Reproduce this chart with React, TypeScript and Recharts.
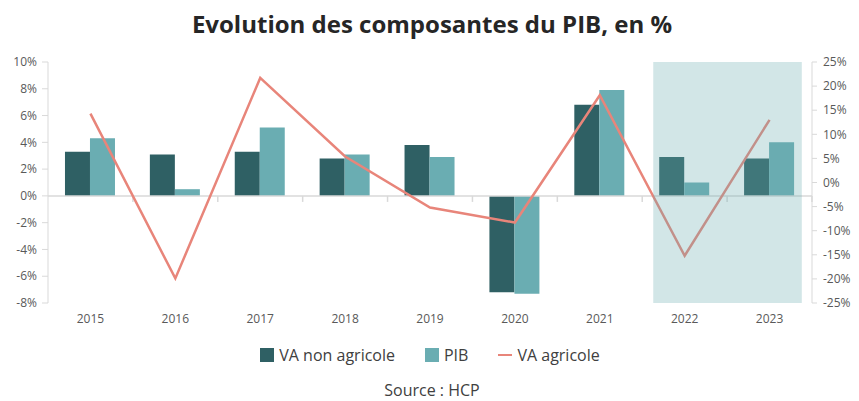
import {
  ComposedChart,
  Bar,
  Line,
  XAxis,
  YAxis,
  Legend,
  ReferenceArea,
  ReferenceLine,
} from "recharts";

const years: string[] = ["2015", "2016", "2017", "2018", "2019", "2020", "2021", "2022", "2023"];
const vaNonAgricole: number[] = [3.3, 3.1, 3.3, 2.8, 3.8, -7.2, 6.8, 2.9, 2.8];
const pib: number[] = [4.3, 0.5, 5.1, 3.1, 2.9, -7.3, 7.9, 1.0, 4.0];
const vaAgricole: number[] = [14.3, -19.9, 21.7, 5.4, -5.2, -8.3, 18.1, -15.2, 13.0];

const leftTicks: number[] = [-8, -6, -4, -2, 0, 2, 4, 6, 8, 10];
const rightTicks: number[] = [-25, -20, -15, -10, -5, 0, 5, 10, 15, 20, 25];
const legendOrder: string[] = ["VA non agricole", "PIB", "VA agricole"];

// shaded forecast zone, in category units on the hidden numeric axis
const shadeFrom = 7.13;
const shadeTo = 8.88;
const boundaries: number[] = [1, 2, 3, 4, 5, 6, 7, 8, 9];

const DARK = "#2f6064";
const LIGHT = "#6aadb2";
const SALMON = "#e8857a";
const GRID = "#d9d9d9";
const FONT = "'Open Sans', sans-serif";

const data = years.map((year, i) => ({
  year,
  idx: i + 0.5,
  vaNonAgricole: vaNonAgricole[i],
  pib: pib[i],
  vaAgricole: vaAgricole[i],
}));

const pct = (v: number): string => `${v}%`;

function LegendContent({ payload }: any): JSX.Element {
  const items = [...(payload || [])].sort(
    (a: any, b: any) => legendOrder.indexOf(a.value) - legendOrder.indexOf(b.value)
  );
  return (
    <div
      style={{
        display: "flex",
        justifyContent: "center",
        alignItems: "center",
        gap: 30,
        height: 30,
        fontFamily: FONT,
        fontSize: 16,
        color: "#404040",
      }}
    >
      {items.map((p: any) => (
        <div key={p.value} style={{ display: "flex", alignItems: "center", gap: 5 }}>
          {p.type === "line" ? (
            <span style={{ display: "inline-block", width: 14, height: 2, background: p.color }} />
          ) : (
            <span style={{ display: "inline-block", width: 14, height: 14, background: p.color }} />
          )}
          <span>{p.value}</span>
        </div>
      ))}
    </div>
  );
}

export default function App(): JSX.Element {
  return (
    <div style={{ position: "relative", width: 848, fontFamily: FONT }}>
      <div
        style={{
          position: "absolute",
          top: 1,
          left: 0,
          width: 848,
          textAlign: "center",
          fontSize: 24,
          fontWeight: 700,
          color: "#262626",
          lineHeight: "30px",
        }}
      >
        Evolution des composantes du PIB, en %
      </div>
      <ComposedChart
        width={848}
        height={362}
        data={data}
        margin={{ top: 54, right: 4, left: 0, bottom: 0 }}
        barCategoryGap="20%"
        barGap={0}
      >
        <XAxis
          dataKey="year"
          xAxisId="cat"
          axisLine={false}
          tickLine={false}
          tickSize={0}
          tickMargin={11}
          height={37}
          interval={0}
          tick={{ fill: "#595959", fontSize: 12, fontFamily: FONT }}
        />
        <XAxis xAxisId="num" type="number" dataKey="idx" domain={[0, 9]} hide allowDataOverflow />
        <YAxis
          yAxisId="left"
          domain={[-8, 10]}
          ticks={leftTicks}
          tickFormatter={pct}
          width={40}
          axisLine={{ stroke: GRID }}
          tickLine={{ stroke: GRID }}
          tickSize={6}
          tickMargin={5}
          interval={0}
          tick={{ fill: "#595959", fontSize: 12, fontFamily: FONT }}
        />
        <YAxis
          yAxisId="right"
          orientation="right"
          domain={[-25, 25]}
          ticks={rightTicks}
          tickFormatter={pct}
          width={40}
          axisLine={{ stroke: GRID }}
          tickLine={{ stroke: GRID }}
          tickSize={5}
          tickMargin={6}
          interval={0}
          tick={{ fill: "#595959", fontSize: 12, fontFamily: FONT }}
        />
        <Legend verticalAlign="bottom" height={30} content={<LegendContent />} />
        <ReferenceLine yAxisId="left" xAxisId="cat" y={0} stroke={GRID} strokeWidth={1.5} />
        {boundaries.map((b) => (
          <ReferenceLine
            key={b}
            xAxisId="num"
            yAxisId="left"
            segment={[
              { x: b, y: 0 },
              { x: b, y: -0.45 },
            ]}
            stroke={GRID}
            strokeWidth={1.5}
          />
        ))}
        <Bar
          dataKey="vaNonAgricole"
          name="VA non agricole"
          xAxisId="cat"
          yAxisId="left"
          fill={DARK}
          isAnimationActive={false}
        />
        <Bar
          dataKey="pib"
          name="PIB"
          xAxisId="cat"
          yAxisId="left"
          fill={LIGHT}
          isAnimationActive={false}
        />
        <Line
          type="linear"
          dataKey="vaAgricole"
          name="VA agricole"
          xAxisId="cat"
          yAxisId="right"
          stroke={SALMON}
          strokeWidth={2.5}
          dot={false}
          legendType="line"
          isAnimationActive={false}
        />
        <ReferenceArea
          xAxisId="num"
          yAxisId="left"
          x1={shadeFrom}
          x2={shadeTo}
          y1={-8}
          y2={10}
          fill="#6bacae"
          fillOpacity={0.3}
          stroke="none"
          zIndex={1500}
        />
      </ComposedChart>
      <div
        style={{
          textAlign: "center",
          fontSize: 16,
          color: "#404040",
          marginTop: 11,
          lineHeight: "18px",
        }}
      >
        Source : HCP
      </div>
    </div>
  );
}
